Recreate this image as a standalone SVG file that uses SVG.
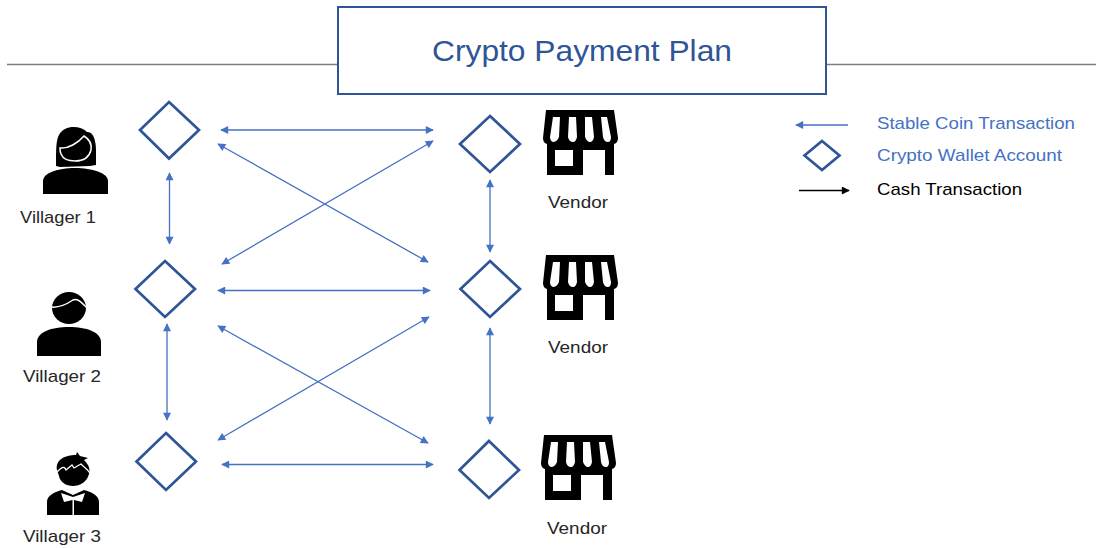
<svg xmlns="http://www.w3.org/2000/svg" width="1096" height="548" viewBox="0 0 1096 548">
<style>
text{font-family:"Liberation Sans",Arial,sans-serif}
.lbl{font-size:17px;fill:#262626}
.leg{font-size:17px}
.d{fill:#fff;stroke:#2f5597;stroke-width:2.700;stroke-linejoin:miter}
.c{fill:none;stroke:#4472c4;stroke-width:1.300;marker-start:url(#a);marker-end:url(#a)}
</style>
<defs>
<marker id="a" viewBox="0 0 10 10" refX="9" refY="5" markerWidth="9" markerHeight="8" markerUnits="userSpaceOnUse" orient="auto-start-reverse"><path d="M0 0L10 5L0 10Z" fill="#4472c4"/></marker>
<marker id="b" viewBox="0 0 10 10" refX="9" refY="5" markerWidth="9" markerHeight="8" markerUnits="userSpaceOnUse" orient="auto"><path d="M0 0L10 5L0 10Z" fill="#000"/></marker>
<symbol id="store" viewBox="0 0 75 65" width="75" height="65" overflow="visible">
<path fill="#000" d="M3 0H71L75 28Q75 33 71 34V65H62V40H40V65H4V34Q0 33 0 28Z"/>
<path fill="#fff" d="M12 40H30V56H12Z"/>
<path fill="#fff" d="M10 7H17L16 27Q14 32 10 32Q7 31 7 27ZM26 7H33L34 27Q33 32 30 32Q26 32 25 27ZM42 7H49L51 27Q50 32 47 32Q44 32 42 27ZM58 7H64L68 27Q68 32 65 32Q61 32 60 27Z"/>
</symbol>
</defs>
<rect width="1096" height="548" fill="#fff"/>
<g id="rules" stroke="#7f7f7f" stroke-width="1.300"><path d="M7 64.500H338M826 64.500H1096"/></g>
<g id="title"><rect x="338" y="7" width="488" height="87" fill="#fff" stroke="#2f5597" stroke-width="2"/><text x="432" y="61" font-size="30" fill="#2f5597" textLength="300" lengthAdjust="spacingAndGlyphs">Crypto Payment Plan</text></g>
<g id="connectors">
<path class="c" d="M221 130H433"/>
<path class="c" d="M218 144L428 262"/>
<path class="c" d="M222 264L433 141"/>
<path class="c" d="M218 290.500H430"/>
<path class="c" d="M218 326L428 443"/>
<path class="c" d="M218 440L429 317"/>
<path class="c" d="M222 464.500H433"/>
<path class="c" d="M169.500 173V244"/>
<path class="c" d="M167 324V420"/>
<path class="c" d="M490 180V252"/>
<path class="c" d="M490 328V424"/>
</g>
<g id="wallet-1"><path class="d" d="M169 102L199 130L169 158.500L140 130Z"/></g>
<g id="wallet-2"><path class="d" d="M165 261L195 289L165 317L135.500 289Z"/></g>
<g id="wallet-3"><path class="d" d="M166 433L196 461.500L166 490L136.500 461.500Z"/></g>
<g id="wallet-4"><path class="d" d="M490 116L520 144L490 172L460 144Z"/></g>
<g id="wallet-5"><path class="d" d="M490 261L520 289L490 317L460.500 289Z"/></g>
<g id="wallet-6"><path class="d" d="M489 441L519 470L489 498L459.500 470Z"/></g>
<g id="villager-1">
<path fill="#000" d="M56 166C56 150 56 140 59 135C64 125 80 125 87 132C93 131 96 140 96 150C96 158 96 162 96 165L90 166L60 167Z"/>
<path fill="#000" stroke="#fff" stroke-width="1.500" d="M60 148C68 149 78 143 84 136C89 139 92 144 91 150C89 158 83 161 75 161C68 161 63 159 61 154C60 152 60 150 60 148Z"/>
<path fill="#000" d="M43 194V181C43 173 58 168 75 168C92 168 108 173 108 181V194Z"/>
</g>
<text class="lbl" x="20" y="223" textLength="76" lengthAdjust="spacingAndGlyphs">Villager 1</text>
<g id="villager-2">
<ellipse cx="69" cy="308" rx="17" ry="16" fill="#000"/>
<path fill="none" stroke="#fff" stroke-width="1.500" d="M51 307C60 308 67 304 73 300C78 298 82 303 87 308"/>
<path fill="#000" d="M37 356V342C37 332 52 327 69 327C86 327 101 332 101 342V356Z"/>
</g>
<text class="lbl" x="23" y="382" textLength="78" lengthAdjust="spacingAndGlyphs">Villager 2</text>
<g id="villager-3">
<path fill="#000" d="M57 470C55 460 65 455 76 455L77 452L80 456L88 458L84 460C90 466 90 470 89 474C87 482 80 486 73 486C66 486 60 482 59 476Z"/>
<path fill="none" stroke="#fff" stroke-width="1.300" d="M57 472C61 468 64 465 66 470L72 465L74 468L81 464C84 467 87 469 90 473"/>
<path fill="#000" d="M47 515V502C47 495 55 492 62 490L73 495L84 490C91 492 99 495 99 502V515Z"/>
<path fill="#fff" d="M61 493L73 497L85 493L82 502L74 500V515H72.500V500L64 502Z"/>
</g>
<text class="lbl" x="23" y="542" textLength="78" lengthAdjust="spacingAndGlyphs">Villager 3</text>
<g id="vendor-1"><use href="#store" x="543" y="110"/><text class="lbl" x="548" y="208" textLength="60" lengthAdjust="spacingAndGlyphs">Vendor</text></g>
<g id="vendor-2"><use href="#store" x="543" y="255"/><text class="lbl" x="548" y="353" textLength="60" lengthAdjust="spacingAndGlyphs">Vendor</text></g>
<g id="vendor-3"><use href="#store" x="541" y="435"/><text class="lbl" x="547" y="534" textLength="60" lengthAdjust="spacingAndGlyphs">Vendor</text></g>
<g id="legend">
<path d="M848 125H796" fill="none" stroke="#4472c4" stroke-width="1.300" marker-end="url(#a)"/>
<path class="d" d="M822 141L839.500 155.500L822 170L804.500 155.500Z"/>
<path d="M799 190.500H849" fill="none" stroke="#000" stroke-width="1.300" marker-end="url(#b)"/>
<text class="leg" x="877" y="129" fill="#4472c4" textLength="198" lengthAdjust="spacingAndGlyphs">Stable Coin Transaction</text>
<text class="leg" x="877" y="161" fill="#4472c4" textLength="185" lengthAdjust="spacingAndGlyphs">Crypto Wallet Account</text>
<text class="leg" x="877" y="195" fill="#000" textLength="145" lengthAdjust="spacingAndGlyphs">Cash Transaction</text>
</g>
</svg>
